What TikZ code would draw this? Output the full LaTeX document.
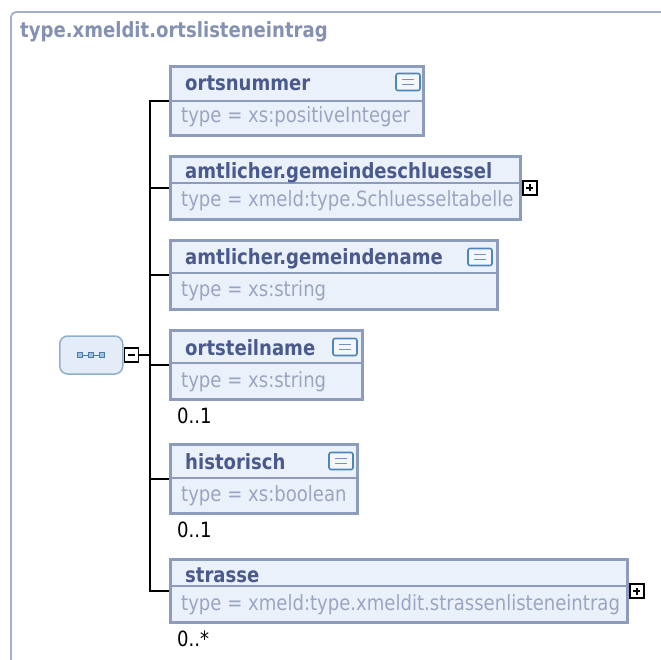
\documentclass[tikz,border=0pt]{standalone}
\usepackage{fontspec}
\setmainfont{DejaVu Sans}[FakeStretch=0.86]
\usepackage{tikz}
\usetikzlibrary{positioning, calc}

\definecolor{frameline}{HTML}{A3B0CC}
\definecolor{titlecol}{HTML}{8491B3}
\definecolor{boxline}{HTML}{8D9CBD}
\definecolor{boxfill}{HTML}{EBF1FA}
\definecolor{namecol}{HTML}{4B5A8C}
\definecolor{typecol}{HTML}{9AA5C2}
\definecolor{iconline}{HTML}{4F86B8}
\definecolor{iconfill}{HTML}{F3F7FC}
\definecolor{iconbar}{HTML}{7093C2}
\definecolor{seqline}{HTML}{8FB0CB}
\definecolor{seqfill}{HTML}{E4EDF7}
\definecolor{seqdot}{HTML}{4A7DAE}
\definecolor{seqdotfill}{HTML}{9FC0E0}

\begin{document}
\begin{tikzpicture}[
        x=1pt, y=-1pt,
        every node/.style={font=\fontsize{21}{24}\selectfont, inner sep=0pt},
        elembox/.style={draw=boxline, line width=3pt, fill=boxfill, rectangle, anchor=north west},
        sepline/.style={draw=boxline, line width=1.5pt},
        elemname/.style={anchor=base west, text=namecol, font=\fontsize{21}{24}\selectfont\bfseries},
        elemtype/.style={anchor=base west, text=typecol},
        mult/.style={anchor=base west, text=black},
        docicon/.style={draw=iconline, fill=iconfill, line width=1.6pt, rounded corners=2pt,
            minimum width=24pt, minimum height=17pt,
            path picture={\draw[iconbar, line width=1.6pt, sharp corners]
                ([xshift=-6pt, yshift=2.5pt]path picture bounding box.center) -- ++(12,0)
                ([xshift=-6pt, yshift=-2.5pt]path picture bounding box.center) -- ++(12,0);}},
        toggle/.style={draw=black, fill=white, line width=1.5pt, minimum size=14pt},
        toggleminus/.style={toggle, path picture={\draw[line width=2pt]
                ([xshift=-3.5pt]path picture bounding box.center) -- ([xshift=3.5pt]path picture bounding box.center);}},
        toggleplus/.style={toggle, path picture={\draw[line width=2pt]
                ([xshift=-3.5pt]path picture bounding box.center) -- ([xshift=3.5pt]path picture bounding box.center)
                ([yshift=-3.5pt]path picture bounding box.center) -- ([yshift=3.5pt]path picture bounding box.center);}},
        seqbox/.style={draw=seqline, fill=seqfill, line width=1.5pt, rounded corners=8pt,
            minimum width=63pt, minimum height=38pt,
            path picture={
                \draw[seqdot, line width=1pt, sharp corners] ([xshift=-11pt]path picture bounding box.center) -- ([xshift=11pt]path picture bounding box.center);
                \foreach \dx in {-11,0,11}
                    \draw[draw=seqdot, fill=seqdotfill, line width=1.2pt, sharp corners] ([xshift=\dx pt]path picture bounding box.center) +(-2.4,-2.4) rectangle +(2.4,2.4);}},
        conn/.style={draw=black, line width=1.8pt}
    ]
    \useasboundingbox (0,0) rectangle (661,660);

    % outer frame and type name
    \draw[frameline, line width=1.8pt, rounded corners=5pt] (11,662) -- (11,12) -- (663,12);
    \node[anchor=base west, text=titlecol, font=\fontsize{21}{24}\selectfont\bfseries] (title) at (20,38) {type.xmeldit.ortslisteneintrag};

    % sequence compositor
    \node[seqbox, anchor=west] (seq) at (59,355) {};
    \node[toggleminus, right=0pt of seq] (seqtoggle) {};
    \coordinate (fork) at ($(seqtoggle.east)+(11,0)$);

    % ortsnummer
    \node[elembox, minimum width=253pt, minimum height=69pt] (ortsnummer) at (169,65) {};
    \draw[sepline] ($(ortsnummer.north west)+(0,36)$) -- ($(ortsnummer.north east)+(0,36)$);
    \node[elemname] (ortsnummer-name) at ($(ortsnummer.north west)+(16,26)$) {ortsnummer};
    \node[elemtype] (ortsnummer-type) at ($(ortsnummer.south west)+(12,-14)$) {type = xs:positiveInteger};
    \node[docicon] (ortsnummer-doc) at ($(ortsnummer.north east)+(-17,17)$) {};

    % amtlicher.gemeindeschluessel
    \node[elembox, minimum width=350pt, minimum height=63pt] (schluessel) at (169,155) {};
    \draw[sepline] ($(schluessel.north west)+(0,28)$) -- ($(schluessel.north east)+(0,28)$);
    \node[elemname] (schluessel-name) at ($(schluessel.north west)+(16,24)$) {amtlicher.gemeindeschluessel};
    \node[elemtype] (schluessel-type) at ($(schluessel.south west)+(12,-14)$) {type = xmeld:type.Schluesseltabelle};
    \node[toggleplus, right=0pt of schluessel] (schluessel-toggle) {};

    % amtlicher.gemeindename
    \node[elembox, minimum width=327pt, minimum height=69pt] (gemeindename) at (169,239) {};
    \draw[sepline] ($(gemeindename.north west)+(0,34)$) -- ($(gemeindename.north east)+(0,34)$);
    \node[elemname] (gemeindename-name) at ($(gemeindename.north west)+(16,26)$) {amtlicher.gemeindename};
    \node[elemtype] (gemeindename-type) at ($(gemeindename.south west)+(12,-14)$) {type = xs:string};
    \node[docicon] (gemeindename-doc) at ($(gemeindename.north east)+(-19,18)$) {};

    % ortsteilname
    \node[elembox, minimum width=192pt, minimum height=69pt] (ortsteilname) at (169,329) {};
    \draw[sepline] ($(ortsteilname.north west)+(0,34)$) -- ($(ortsteilname.north east)+(0,34)$);
    \node[elemname] (ortsteilname-name) at ($(ortsteilname.north west)+(16,26)$) {ortsteilname};
    \node[elemtype] (ortsteilname-type) at ($(ortsteilname.south west)+(12,-14)$) {type = xs:string};
    \node[docicon] (ortsteilname-doc) at ($(ortsteilname.north east)+(-19,18)$) {};
    \node[mult] (ortsteilname-mult) at ($(ortsteilname.south west)+(8,22)$) {0..1};

    % historisch
    \node[elembox, minimum width=187pt, minimum height=69pt] (historisch) at (169,443) {};
    \draw[sepline] ($(historisch.north west)+(0,35)$) -- ($(historisch.north east)+(0,35)$);
    \node[elemname] (historisch-name) at ($(historisch.north west)+(16,26)$) {historisch};
    \node[elemtype] (historisch-type) at ($(historisch.south west)+(12,-14)$) {type = xs:boolean};
    \node[docicon] (historisch-doc) at ($(historisch.north east)+(-18,18)$) {};
    \node[mult] (historisch-mult) at ($(historisch.south west)+(8,22)$) {0..1};

    % strasse
    \node[elembox, minimum width=457pt, minimum height=63pt] (strasse) at (169,558) {};
    \draw[sepline] ($(strasse.north west)+(0,28)$) -- ($(strasse.north east)+(0,28)$);
    \node[elemname] (strasse-name) at ($(strasse.north west)+(16,24)$) {strasse};
    \node[elemtype] (strasse-type) at ($(strasse.south west)+(12,-14)$) {type = xmeld:type.xmeldit.strassenlisteneintrag};
    \node[toggleplus, right=0pt of strasse] (strasse-toggle) {};
    \node[mult] (strasse-mult) at ($(strasse.south west)+(8,22)$) {0..*};

    % connectors
    \draw[conn] (seqtoggle.east) -- (fork);
    \draw[conn] (fork) |- (ortsnummer.west);
    \draw[conn] (fork) |- (schluessel.west);
    \draw[conn] (fork) |- (gemeindename.west);
    \draw[conn] (fork) |- (ortsteilname.west);
    \draw[conn] (fork) |- (historisch.west);
    \draw[conn] (fork) |- (strasse.west);
\end{tikzpicture}
\end{document}
